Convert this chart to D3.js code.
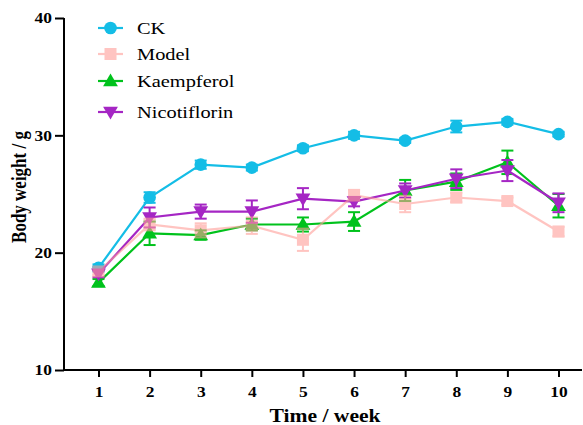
<!DOCTYPE html>
<html><head><meta charset="utf-8">
<script src="https://cdn.jsdelivr.net/npm/d3@7"></script>
<style>body{margin:0;background:#fff}svg{display:block}</style>
</head><body><div id="chart"></div>
<script>
const weeks = [1,2,3,4,5,6,7,8,9,10];
const ckMean = [18.7,24.7,27.5,27.25,28.9,30.0,29.55,30.75,31.15,30.1];
const ckErr  = [0.3,0.45,0.35,0.25,0.25,0.3,0.2,0.5,0.25,0.2];
const modelMean = [18.4,22.4,21.9,22.3,21.1,24.9,24.15,24.7,24.4,21.8];
const modelErr  = [0.3,0.5,0.6,0.7,0.95,0.45,0.7,0.4,0.3,0.4];
const kaeMean = [17.45,21.65,21.5,22.4,22.4,22.65,25.3,26.05,27.7,24.0];
const kaeErr  = [0.3,1.0,0.4,0.5,0.6,0.8,0.9,0.7,1.0,1.0];
const nicMean = [18.2,23.0,23.5,23.5,24.6,24.35,25.3,26.3,27.0,24.25];
const nicErr  = [0.3,0.85,0.6,0.95,0.9,0.4,0.6,0.8,0.9,0.8];
const yTicks = [10,20,30,40];
const seriesNames = ["CK","Model","Kaempferol","Nicotiflorin"];

const FONT = "'Liberation Serif'";
const SX = 1.2; // horizontal stretch seen in the reference text
const W=583,H=425;
const svg=d3.select("#chart").append("svg").attr("width",W).attr("height",H);
const x=d3.scaleLinear().domain([1,10]).range([98.5,558.5]);
const y=d3.scaleLinear().domain([10,40]).range([370,18]);
const x0=64, x1=582;

const yAxis=d3.axisLeft(y).tickValues(yTicks).tickSize(9).tickPadding(3);
const gy=svg.append("g").attr("transform",`translate(${x0},0)`).call(yAxis);
gy.select(".domain").remove();
gy.append("line").attr("x1",0).attr("x2",0).attr("y1",y(40)).attr("y2",y(10)).attr("stroke","#000").attr("stroke-width",2);
gy.selectAll(".tick line").attr("stroke-width",2);
gy.selectAll(".tick text").each(function(){
  const t=d3.select(this), tx=+t.attr("x");
  t.attr("x",0).attr("dy","0.34em").attr("transform",`translate(${tx},0) scale(${SX},1)`)
   .attr("font-size",14.5).attr("font-weight","bold").attr("fill","#000").style("font-family",FONT);
});

const xAxis=d3.axisBottom(x).tickValues(weeks).tickSize(7).tickPadding(8).tickFormat(d3.format("d"));
const gx=svg.append("g").attr("transform",`translate(0,370)`).call(xAxis);
gx.select(".domain").remove();
gx.append("line").attr("x1",x0-1).attr("x2",x1).attr("y1",0).attr("y2",0).attr("stroke","#000").attr("stroke-width",2);
gx.selectAll(".tick line").attr("stroke-width",2);
gx.selectAll(".tick text").each(function(){
  const t=d3.select(this);
  t.attr("y",0).attr("dy",0).attr("transform",`translate(0,27) scale(${SX},1)`)
   .attr("font-size",14.5).attr("font-weight","bold").attr("fill","#000").style("font-family",FONT);
});

svg.append("text").attr("transform",`translate(325,422) scale(${SX},1)`).attr("text-anchor","middle")
  .attr("font-size",18).attr("font-weight","bold").style("font-family",FONT).text("Time / week");
svg.append("text").attr("transform",`translate(26,187) rotate(-90) scale(1,${SX})`).attr("text-anchor","middle")
  .attr("font-size",17).attr("font-weight","bold").style("font-family",FONT).text("Body weight / g");

const tri=d3.symbol().type(d3.symbolTriangle).size(95);
const series=[
 {name:"CK",mean:ckMean,err:ckErr,color:"#14BDE6",op:1,shape:"circle"},
 {name:"Kaempferol",mean:kaeMean,err:kaeErr,color:"#00C21C",op:1,shape:"tri"},
 {name:"Nicotiflorin",mean:nicMean,err:nicErr,color:"#A526C4",op:1,shape:"tridown"},
 {name:"Model",mean:modelMean,err:modelErr,color:"#FF9E98",op:0.6,shape:"square"}
];
function marker(g,s,cx,cy){
  if(s.shape==="circle") g.append("circle").attr("cx",cx).attr("cy",cy).attr("r",6.3).attr("fill",s.color);
  else if(s.shape==="square") g.append("rect").attr("x",cx-6).attr("y",cy-6).attr("width",12).attr("height",12).attr("fill",s.color);
  else if(s.shape==="tri") g.append("path").attr("d",tri).attr("transform",`translate(${cx},${cy+1})`).attr("fill",s.color);
  else g.append("path").attr("d",tri).attr("transform",`translate(${cx},${cy-1}) rotate(180)`).attr("fill",s.color);
}
const line=d3.line();
series.forEach(s=>{
  const g=svg.append("g").attr("opacity",s.op);
  const pts=weeks.map((w,i)=>[x(w),y(s.mean[i])]);
  g.append("path").attr("d",line(pts)).attr("fill","none").attr("stroke",s.color).attr("stroke-width",2.2);
  weeks.forEach((w,i)=>{
    const cx=x(w), hi=y(s.mean[i]+s.err[i]), lo=y(s.mean[i]-s.err[i]);
    g.append("line").attr("x1",cx).attr("x2",cx).attr("y1",hi).attr("y2",lo).attr("stroke",s.color).attr("stroke-width",2);
    [hi,lo].forEach(v=>g.append("line").attr("x1",cx-6).attr("x2",cx+6).attr("y1",v).attr("y2",v).attr("stroke",s.color).attr("stroke-width",2));
    marker(g,s,cx,pts[i][1]);
  });
});

const legY={"CK":28,"Model":54,"Kaempferol":81,"Nicotiflorin":112};
seriesNames.forEach(n=>{
  const s=series.find(d=>d.name===n);
  const g=svg.append("g").attr("opacity",s.op);
  const ly=legY[n];
  g.append("line").attr("x1",98).attr("x2",123).attr("y1",ly).attr("y2",ly).attr("stroke",s.color).attr("stroke-width",2.2);
  marker(g,s,110.5,ly);
  svg.append("text").attr("transform",`translate(137,${ly+6}) scale(${SX},1)`).attr("font-size",17).attr("fill","#000")
    .style("font-family",FONT).text(n);
});
</script></body></html>
